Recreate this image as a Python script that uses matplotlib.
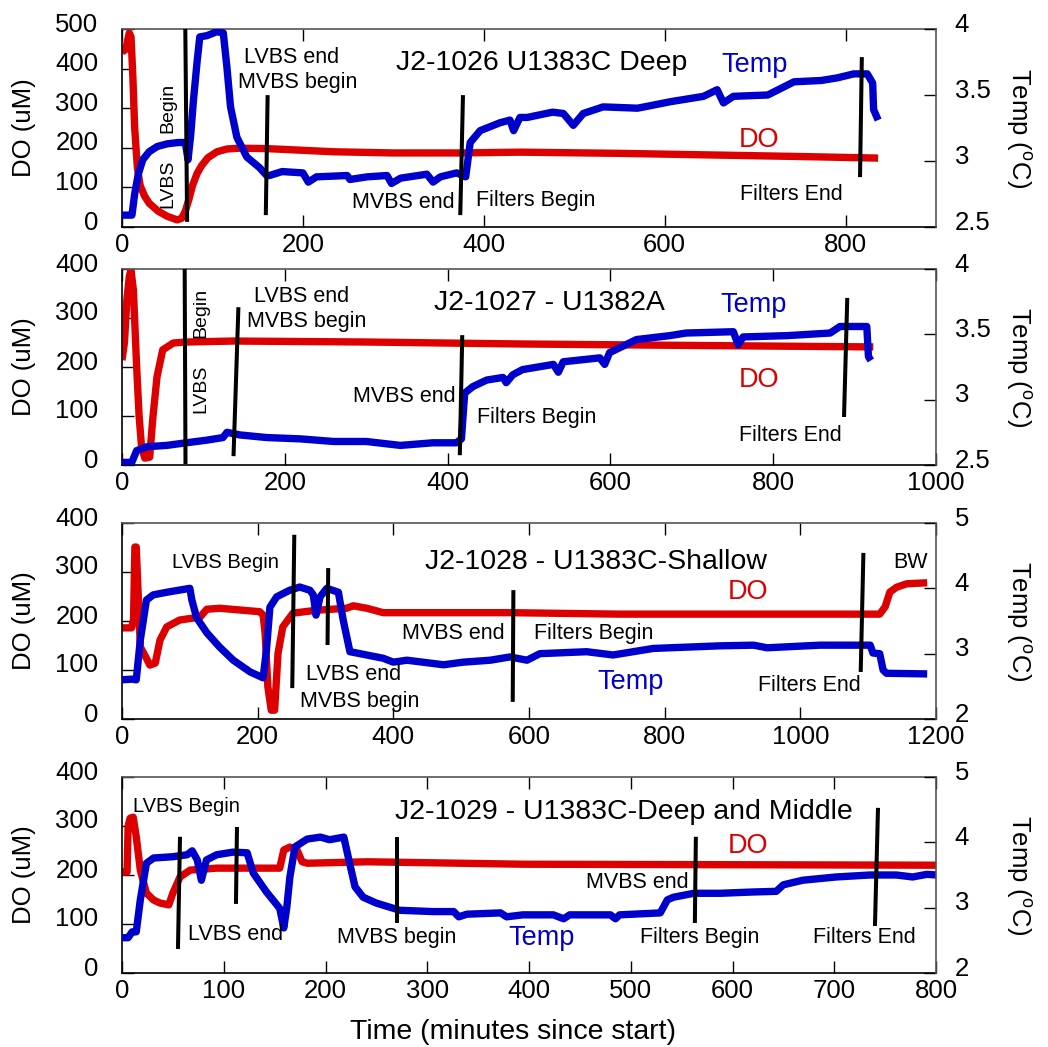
import matplotlib
matplotlib.use('Agg')
import matplotlib.pyplot as plt
from matplotlib.transforms import ScaledTranslation

plt.rcParams['font.family'] = ['Liberation Sans', 'DejaVu Sans']
plt.rcParams['mathtext.fontset'] = 'custom'
plt.rcParams['mathtext.rm'] = 'Liberation Sans'
plt.rcParams['mathtext.it'] = 'Liberation Sans:italic'

RED = '#DD0000'
BLUE = '#0000CC'

# ---------------- Panel 1: J2-1026 U1383C Deep ----------------
p1_do_t = [0, 4, 8, 10, 12, 14, 17, 20, 25, 30, 40, 50, 61, 66, 70, 74, 78, 83, 88, 95, 105, 116, 130, 160, 234, 300, 374, 440, 550, 650, 750, 836]
p1_do = [442, 448, 490, 480, 380, 250, 150, 105, 78, 60, 40, 27, 18, 22, 40, 70, 105, 135, 155, 175, 190, 197, 199, 198, 190, 187, 187, 189, 186, 182, 178, 174]
p1_tp_t = [0, 11, 14, 18, 23, 30, 39, 50, 62, 70, 73, 76, 79, 83, 86, 94, 105, 112, 116, 120,
           127, 138, 152, 160, 163, 177, 200, 206, 215, 249, 252, 271, 293, 298, 308, 337, 344, 352, 370, 380,
           385, 396, 418, 429, 433, 440, 448, 476, 488, 499, 510, 532, 570, 607, 643, 658, 665, 676, 714, 743,
           773, 791, 809, 824, 830, 831, 836]
p1_tp = [2.59, 2.59, 2.75, 2.90, 3.01, 3.07, 3.11, 3.13, 3.14, 3.14, 3.01, 3.2, 3.46, 3.75, 3.94, 3.95, 3.98, 3.97, 3.71, 3.41,
         3.18, 3.03, 2.95, 2.89, 2.89, 2.92, 2.91, 2.84, 2.88, 2.89, 2.86, 2.88, 2.89, 2.83, 2.87, 2.90, 2.84, 2.88, 2.91, 2.88,
         3.14, 3.23, 3.29, 3.31, 3.23, 3.33, 3.33, 3.37, 3.36, 3.27, 3.36, 3.41, 3.40, 3.45, 3.49, 3.54, 3.44, 3.49, 3.50, 3.60,
         3.61, 3.63, 3.66, 3.66, 3.59, 3.39, 3.31]
p1_ev_t_top = [70, 161, 377, 818]
p1_ev_t_bot = [72, 159, 374, 816]
p1_ev_do_top = [500, 333, 333, 429]
p1_ev_do_bot = [13, 30, 30, 126]

# ---------------- Panel 2: J2-1027 - U1382A ----------------
p2_do_t = [0, 3, 6, 9, 11, 14, 18, 21, 24, 28, 34, 38, 43, 50, 63, 79, 137, 300, 489, 700, 923]
p2_do = [214, 250, 337, 385, 398, 357, 200, 100, 37, 14, 16, 98, 180, 235, 249, 251, 253, 251, 247, 244, 241]
p2_tp_t = [0, 12, 18, 31, 55, 79, 104, 124, 129, 137, 145, 178, 219, 260, 300, 342, 382, 411, 417, 421,
           431, 448, 468, 472, 480, 492, 530, 536, 542, 587, 593, 599, 632, 673, 693, 751, 757, 763, 817, 870,
           882, 915, 917, 920]
p2_tp = [2.52, 2.52, 2.61, 2.64, 2.65, 2.67, 2.69, 2.71, 2.75, 2.74, 2.73, 2.71, 2.70, 2.68, 2.68, 2.65, 2.67, 2.67, 2.70, 3.05,
         3.10, 3.15, 3.17, 3.13, 3.19, 3.23, 3.27, 3.21, 3.29, 3.32, 3.27, 3.36, 3.46, 3.49, 3.51, 3.52, 3.42, 3.48, 3.49, 3.51,
         3.56, 3.56, 3.33, 3.30]
p2_ev_t_top = [77, 143, 418, 891]
p2_ev_t_bot = [78, 137, 415, 887]
p2_ev_do_top = [400, 322, 265, 341]
p2_ev_do_bot = [2, 18, 20, 98]

# ---------------- Panel 3: J2-1028 - U1383C-Shallow ----------------
p3_do_t = [0, 14, 17, 19, 21, 24, 27, 36, 41, 49, 56, 66, 85, 115, 125, 144, 203, 208, 211, 215,
           220, 225, 230, 237, 252, 287, 331, 341, 361, 385, 572, 734, 1117, 1125, 1132, 1142, 1157, 1187]
p3_do = [186, 186, 202, 351, 351, 250, 147, 124, 110, 114, 161, 188, 202, 208, 224, 226, 219, 212, 175, 66,
         18, 18, 134, 188, 216, 222, 226, 231, 226, 217, 217, 214, 214, 229, 259, 269, 276, 278]
p3_tp_t = [0, 14, 21, 27, 36, 46, 66, 100, 103, 110, 125, 144, 164, 189, 208, 213, 218, 228, 247, 262,
           277, 282, 286, 292, 302, 319, 326, 336, 346, 385, 400, 420, 474, 503, 543, 572, 597, 616, 685, 724,
           783, 882, 931, 951, 1029, 1103, 1107, 1117, 1122, 1127, 1187]
p3_tp = [2.60, 2.61, 2.60, 3.21, 3.82, 3.90, 3.94, 4.00, 3.82, 3.55, 3.32, 3.10, 2.90, 2.72, 2.63, 3.06, 3.71, 3.87, 3.97, 4.02,
         3.97, 3.90, 3.59, 3.87, 4.00, 3.94, 3.52, 3.03, 3.01, 2.93, 2.87, 2.90, 2.83, 2.87, 2.90, 2.95, 2.90, 3.00, 3.03, 2.98,
         3.08, 3.12, 3.13, 3.09, 3.13, 3.13, 3.01, 3.00, 2.75, 2.70, 2.69]
p3_ev_t_top = [254, 304, 577, 1093]
p3_ev_t_bot = [251, 303, 576, 1089]
p3_ev_do_top = [376, 308, 263, 339]
p3_ev_do_bot = [63, 151, 35, 96]

# ---------------- Panel 4: J2-1029 - U1383C-Deep and Middle ----------------
p4_do_t = [0, 5, 6, 8, 11, 14, 18, 24, 31, 37, 46, 50, 57, 67, 93, 155, 159, 165, 172, 177, 182, 241, 394, 801]
p4_do = [206, 206, 300, 316, 318, 278, 210, 163, 149, 143, 139, 163, 196, 210, 214, 214, 251, 257, 251, 227, 224, 227, 222, 220]
p4_tp_t = [0, 6, 10, 14, 18, 24, 31, 50, 64, 69, 74, 78, 83, 93, 109, 123, 129, 142, 155, 159,
           162, 165, 170, 182, 195, 204, 218, 223, 229, 237, 250, 273, 306, 326, 331, 339, 372, 378, 394, 424,
           434, 440, 480, 485, 489, 529, 536, 542, 562, 588, 620, 643, 650, 669, 702, 735, 761, 777, 791, 801]
p4_tp = [2.54, 2.54, 2.63, 2.63, 3.12, 3.68, 3.76, 3.78, 3.81, 3.87, 3.73, 3.42, 3.73, 3.81, 3.85, 3.84, 3.53, 3.24, 2.99, 2.69,
         3.01, 3.47, 3.93, 4.05, 4.08, 4.04, 4.08, 3.73, 3.32, 3.16, 3.07, 2.96, 2.94, 2.94, 2.86, 2.90, 2.92, 2.86, 2.89, 2.89,
         2.83, 2.89, 2.89, 2.83, 2.89, 2.92, 3.12, 3.16, 3.22, 3.22, 3.24, 3.25, 3.35, 3.42, 3.47, 3.50, 3.50, 3.47, 3.51, 3.50]
p4_ev_t_top = [57, 113, 270, 564, 743]
p4_ev_t_bot = [55, 112, 270, 563, 740]
p4_ev_do_top = [278, 298, 278, 278, 337]
p4_ev_do_bot = [49, 141, 102, 102, 96]

# axis settings per panel
x_max = [900, 1000, 1200, 800]
x_step = [200, 200, 200, 100]
do_max = [500, 400, 400, 400]
t_range = [(2.5, 4.0), (2.5, 4.0), (2.0, 5.0), (2.0, 5.0)]
t_ticks = [[2.5, 3, 3.5, 4], [2.5, 3, 3.5, 4], [2, 3, 4, 5], [2, 3, 4, 5]]
t_ticklabels = [['2.5', '3', '3.5', '4'], ['2.5', '3', '3.5', '4'], ['2', '3', '4', '5'], ['2', '3', '4', '5']]

# annotations: (text, t, DO, size, color, rotation, ha)
S_T = 20.5
S_C = 19.5
S_A = 15.5
ann = [
    [("J2-1026 U1383C Deep", 464, 414, S_T, 'k', 0, 'center'),
     ("Temp", 699, 409, S_C, BLUE, 0, 'center'),
     ("DO", 704, 220, S_C, RED, 0, 'center'),
     ("LVBS end", 188, 429, S_A, 'k', 0, 'center'),
     ("MVBS begin", 194, 366, S_A, 'k', 0, 'center'),
     ("Begin", 51, 300, 14, 'k', 90, 'center'),
     ("LVBS", 51, 108, 14, 'k', 90, 'center'),
     ("MVBS end", 311, 63, S_A, 'k', 0, 'center'),
     ("Filters Begin", 457, 68, S_A, 'k', 0, 'center'),
     ("Filters End", 740, 81, S_A, 'k', 0, 'center')],
    [("J2-1027 - U1382A", 525, 331, S_T, 'k', 0, 'center'),
     ("Temp", 776, 327, S_C, BLUE, 0, 'center'),
     ("DO", 782, 173, S_C, RED, 0, 'center'),
     ("LVBS end", 220, 343, S_A, 'k', 0, 'center'),
     ("MVBS begin", 227, 292, S_A, 'k', 0, 'center'),
     ("Begin", 97, 310, 14, 'k', 90, 'center'),
     ("LVBS", 97, 155, 14, 'k', 90, 'center'),
     ("MVBS end", 347, 139, S_A, 'k', 0, 'center'),
     ("Filters Begin", 509, 96, S_A, 'k', 0, 'center'),
     ("Filters End", 821, 61, S_A, 'k', 0, 'center')],
    [("J2-1028 - U1383C-Shallow", 699, 320, S_T, 'k', 0, 'center'),
     ("DO", 923, 259, S_C, RED, 0, 'center'),
     ("Temp", 750, 76, S_C, BLUE, 0, 'center'),
     ("LVBS Begin", 152, 320, 14.5, 'k', 0, 'center'),
     ("LVBS end", 342, 90, S_A, 'k', 0, 'center'),
     ("MVBS begin", 350, 35, S_A, 'k', 0, 'center'),
     ("MVBS end", 488, 175, S_A, 'k', 0, 'center'),
     ("Filters Begin", 696, 175, S_A, 'k', 0, 'center'),
     ("Filters End", 1014, 69, S_A, 'k', 0, 'center'),
     ("BW", 1162, 320, S_A, 'k', 0, 'center')],
    [("J2-1029 - U1383C-Deep and Middle", 493, 329, S_T, 'k', 0, 'center'),
     ("DO", 615, 259, S_C, RED, 0, 'center'),
     ("Temp", 412, 72, S_C, BLUE, 0, 'center'),
     ("LVBS Begin", 63, 339, 14.5, 'k', 0, 'center'),
     ("LVBS end", 112, 78, S_A, 'k', 0, 'center'),
     ("MVBS begin", 270, 72, S_A, 'k', 0, 'center'),
     ("MVBS end", 506, 184, S_A, 'k', 0, 'center'),
     ("Filters Begin", 568, 73, S_A, 'k', 0, 'center'),
     ("Filters End", 730, 73, S_A, 'k', 0, 'center')],
]

do_series = [(p1_do_t, p1_do), (p2_do_t, p2_do), (p3_do_t, p3_do), (p4_do_t, p4_do)]
tp_series = [(p1_tp_t, p1_tp), (p2_tp_t, p2_tp), (p3_tp_t, p3_tp), (p4_tp_t, p4_tp)]
events = [(p1_ev_t_top, p1_ev_t_bot, p1_ev_do_top, p1_ev_do_bot),
          (p2_ev_t_top, p2_ev_t_bot, p2_ev_do_top, p2_ev_do_bot),
          (p3_ev_t_top, p3_ev_t_bot, p3_ev_do_top, p3_ev_do_bot),
          (p4_ev_t_top, p4_ev_t_bot, p4_ev_do_top, p4_ev_do_bot)]

W, H = 1048, 1047
fig = plt.figure(figsize=(W / 100, H / 100), dpi=100)
panel_px = [(29, 227), (269, 465), (523, 719), (777, 973)]
left_px, right_px = 122, 936
GRAY = '#555555'
TS = 18.5
offset = ScaledTranslation(0, 0.07, fig.dpi_scale_trans)

for i in range(4):
    top, bot = panel_px[i]
    ax = fig.add_axes([left_px / W, 1 - bot / H, (right_px - left_px) / W, (bot - top) / H])
    ax2 = ax.twinx()

    ax.plot(do_series[i][0], do_series[i][1], color=RED, lw=5.3, solid_joinstyle='round', solid_capstyle='butt')
    ax2.plot(tp_series[i][0], tp_series[i][1], color=BLUE, lw=5.3, solid_joinstyle='round', solid_capstyle='butt')

    ev = events[i]
    for tt, tb, dt, db in zip(*ev):
        ax2.plot([tt, tb], [dt, db], color='k', lw=2.9, transform=ax.transData, solid_capstyle='butt')

    for (txt, tx, ty, sz, col, rot, ha) in ann[i]:
        ax2.text(tx, ty, txt, fontsize=sz, color=col, rotation=rot, ha=ha, va='center',
                 transform=ax.transData)

    ax.set_xlim(0, x_max[i])
    ax.set_ylim(0, do_max[i])
    ax2.set_ylim(*t_range[i])

    ax.tick_params(axis='x', which='both', direction='in', top=True, bottom=True, length=8.6, width=1,
                   labelsize=TS, pad=4)
    ax.tick_params(axis='y', direction='in', left=True, right=False, length=8.6, width=1,
                   labelsize=TS, pad=17)
    ax2.tick_params(axis='y', direction='in', right=True, left=False, length=8.6, width=1,
                    labelsize=TS, pad=13.5)

    ax.set_xticks(list(range(0, x_max[i] + 1, x_step[i])))
    ax.set_yticks(list(range(0, do_max[i] + 1, 100)))
    ax2.set_yticks(t_ticks[i])
    ax2.set_yticklabels(t_ticklabels[i])

    for tk in ax.yaxis.get_major_ticks():
        tk.label1.set_transform(tk.label1.get_transform() + offset)
    for tk in ax2.yaxis.get_major_ticks():
        tk.label2.set_transform(tk.label2.get_transform() + offset)

    for sp in ['left', 'bottom']:
        ax.spines[sp].set_color('k')
        ax.spines[sp].set_linewidth(1.2)
    ax.spines['top'].set_color(GRAY)
    ax.spines['top'].set_linewidth(1.2)
    ax.spines['right'].set_visible(False)
    for sp in ['left', 'bottom', 'top']:
        ax2.spines[sp].set_visible(False)
    ax2.spines['right'].set_color(GRAY)
    ax2.spines['right'].set_linewidth(1.2)

    yc = 1 - (top + bot) / 2 / H
    fig.text(24 / W, yc, 'DO (uM)', rotation=90, ha='center', va='center', fontsize=18.5)
    fig.text(1019 / W, yc, 'Temp ($^{\\rm o}$C)', rotation=270, ha='center', va='center', fontsize=18.5)

fig.text(513 / W, 1 - 1032 / H, 'Time (minutes since start)', ha='center', va='center', fontsize=20.5)

fig.savefig('out.png', dpi=100)
